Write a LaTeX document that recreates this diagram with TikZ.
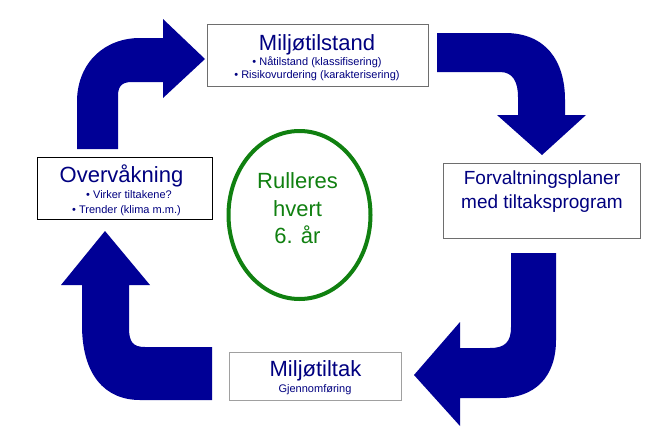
\documentclass[tikz,border=0pt]{standalone}
\usepackage{fontspec}
\setmainfont{Liberation Sans}
\definecolor{navytext}{RGB}{0,0,128}
\definecolor{arrowblue}{RGB}{0,0,150}
\definecolor{ringgreen}{RGB}{16,128,16}
\definecolor{boxgrey}{RGB}{110,110,110}
\definecolor{boxlight}{RGB}{160,160,160}
\tikzset{
  bigarrow/.style={fill=arrowblue, draw=none},
  infobox/.style={draw=boxgrey, line width=1pt, fill=white, inner sep=0pt},
  title/.style={text=navytext, font=\fontsize{22}{26}\selectfont, anchor=base, inner sep=0pt},
  sub/.style={text=navytext, font=\fontsize{11}{13}\selectfont, anchor=base, inner sep=0pt},
  mid/.style={text=navytext, font=\fontsize{19}{23}\selectfont, anchor=base, inner sep=0pt},
  ringtext/.style={text=ringgreen, font=\fontsize{22}{26}\selectfont, anchor=base, inner sep=0pt}
}
\begin{document}
\begin{tikzpicture}[x=1pt,y=-1pt]
\useasboundingbox (0,0) rectangle (666,431);
\fill[white] (0,0) rectangle (666,431);
% top-left arrow (up then right)
\fill[bigarrow] (77,149) -- (77,100) .. controls (78,62) and (105,38) .. (140,38)
  -- (163,38) -- (163,19) -- (205,59) -- (163,98) -- (163,82) -- (132,82)
  .. controls (122,82) and (118,86) .. (118,96) -- (118,149) -- cycle;
% top-right arrow (right then down)
\fill[bigarrow] (437,33) -- (505,33) .. controls (545,33) and (565,60) .. (565,100)
  -- (565,115) -- (586,115) -- (542,155) -- (497,115) -- (518,115) -- (518,97)
  .. controls (518,82) and (513,72) .. (500,72) -- (437,72) -- cycle;
% bottom-right arrow (down then left)
\fill[bigarrow] (511,253) -- (556,253) -- (556,340) .. controls (556,377) and (535,398) .. (500,398)
  -- (460,398) -- (460,426) -- (414,375) -- (460,322) -- (460,348) -- (490,348)
  .. controls (505,348) and (511,342) .. (511,327) -- cycle;
% bottom-left arrow (left then up)
\fill[bigarrow] (212,347) -- (212,400) -- (140,400) .. controls (105,400) and (82,375) .. (82,325)
  -- (82,285) -- (61,285) -- (105,231) -- (150,285) -- (129,285) -- (129,328)
  .. controls (129,342) and (133,347) .. (145,347) -- cycle;
% boxes
\node[infobox, minimum width=221pt, minimum height=62pt] (tilstand) at (317.5,55) {};
\node[infobox, minimum width=197pt, minimum height=75pt] (plan) at (541.5,200.5) {};
\node[infobox, draw=boxlight, minimum width=172pt, minimum height=48pt] (tiltak) at (315,376) {};
\node[infobox, draw=black, minimum width=175pt, minimum height=62pt] (overv) at (124.5,188) {};
% texts
\node[title] (t1) at (317,50) {Miljøtilstand};
\node[sub] (t1a) at (317,65) {• Nåtilstand (klassifisering)};
\node[sub] (t1b) at (317,78.3) {• Risikovurdering (karakterisering)};
\node[mid] (t2a) at (542,184) {Forvaltningsplaner};
\node[mid] (t2b) at (542,208) {med tiltaksprogram};
\node[title] (t3) at (315.5,376) {Miljøtiltak};
\node[sub] (t3a) at (315,392) {Gjennomføring};
\node[title] (t4) at (121.5,182) {Overvåkning};
\node[sub] (t4a) at (129,198) {• Virker tiltakene?};
\node[sub] (t4b) at (126.5,213) {• Trender (klima m.m.)};
% ring
\draw[ringgreen, line width=4pt] (299.5,215) ellipse [x radius=71, y radius=84];
\node[ringtext] (r1) at (297.5,188) {Rulleres};
\node[ringtext] (r2) at (297.5,216.5) {hvert};
\node[ringtext] (r3) at (297.5,243) {6. år};
\end{tikzpicture}
\end{document}
